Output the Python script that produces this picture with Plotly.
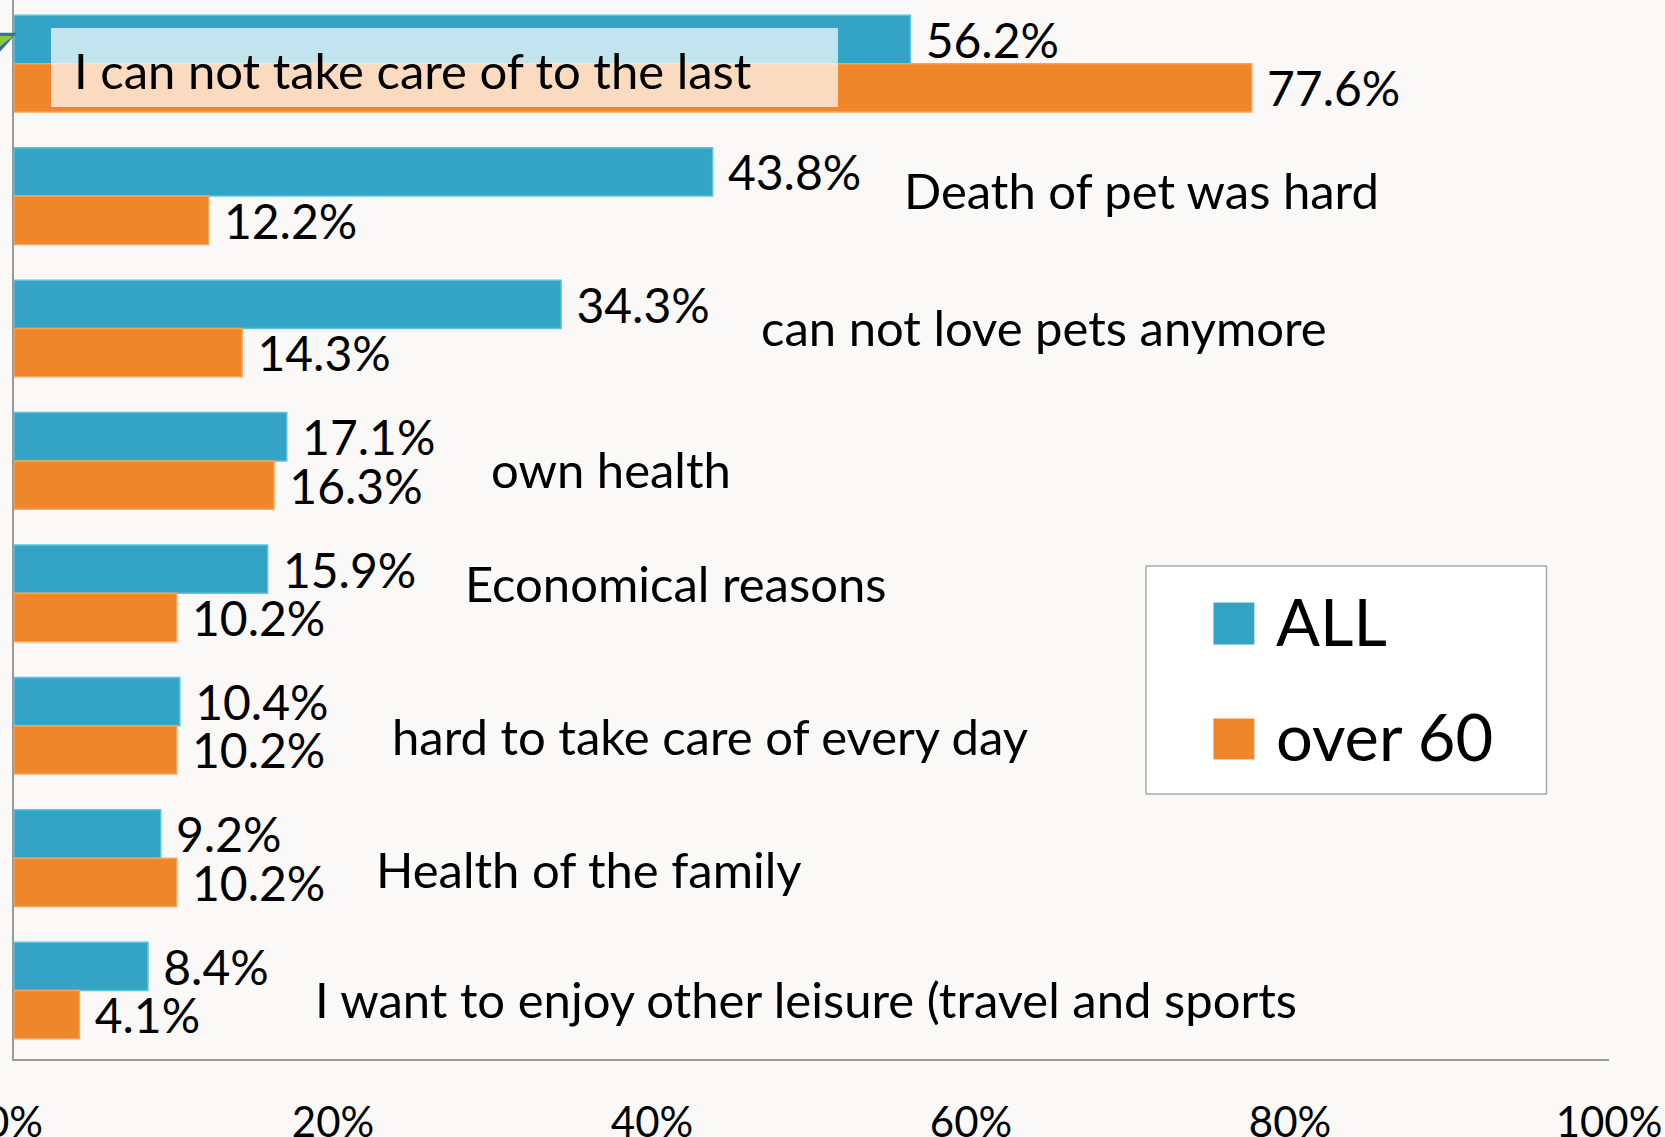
import plotly.graph_objects as go

categories = [
    "I can not take care of to the last",
    "Death of pet was hard",
    "can not love pets anymore",
    "own health",
    "Economical reasons",
    "hard to take care of every day",
    "Health of the family",
    "I want to enjoy other leisure (travel and sports",
]
all_values = [56.2, 43.8, 34.3, 17.1, 15.9, 10.4, 9.2, 8.4]
over60_values = [77.6, 12.2, 14.3, 16.3, 10.2, 10.2, 10.2, 4.1]
series_names = ["ALL", "over 60"]
tick_values = [0, 20, 40, 60, 80, 100]
tick_labels = ["0%", "20%", "40%", "60%", "80%", "100%"]

# category label placement (x in % units, vertical shift in px)
label_x = [3.65, 55.7, 46.7, 29.8, 28.15, 23.55, 22.56, 18.76]
label_shift = [-6, 6, 2, -8, 10, -10, -11, -8]

BLUE = "#33a4c5"
ORANGE = "#f0862a"
BG = "#faf9f7"
FONT = "Lato"
NB = "\u00a0"

fig = go.Figure()
for name, vals, col, edge in [
    (series_names[0], all_values, BLUE, "#5cc3e0"),
    (series_names[1], over60_values, ORANGE, "#f9a25a"),
]:
    fig.add_trace(go.Bar(
        name=name, y=categories, x=vals, orientation="h",
        marker=dict(color=col, line=dict(color=edge, width=1.5)),
        text=[NB + f"{v:.1f}%" for v in vals],
        textposition="outside", constraintext="none", cliponaxis=False,
        textfont=dict(family=FONT, size=48, color="#000000"),
        showlegend=False,
    ))

annotations = []
for i, (cat, lx, ls) in enumerate(zip(categories, label_x, label_shift)):
    annotations.append(dict(
        x=lx, y=cat, xref="x", yref="y", yshift=ls, text=cat,
        showarrow=False, xanchor="left", yanchor="middle",
        font=dict(family=FONT, size=49, color="#000000"),
    ))

shapes = [
    # highlight box behind first category label
    dict(type="rect", xref="x", yref="paper", x0=2.32, x1=51.66, y0=0.899, y1=0.9736,
         fillcolor="rgba(255,255,255,0.7)", line=dict(width=0), layer="above"),
    # small decorative triangle at top-left
    dict(type="path", xref="paper", yref="paper",
         path="M -0.0088 0.969 L 0.0019 0.969 L -0.0088 0.951 Z",
         fillcolor="#3b6fa0", line=dict(width=0), layer="above"),
    dict(type="path", xref="paper", yref="paper",
         path="M -0.0088 0.966 L -0.0005 0.966 L -0.0088 0.956 Z",
         fillcolor="#8cc63f", line=dict(width=0), layer="above"),
]

# custom legend (box, swatches, labels) in paper coordinates
legend_box = dict(x0=0.7097, x1=0.9608, y0=0.2502, y1=0.4655)
shapes.append(dict(type="rect", xref="paper", yref="paper", **legend_box,
                   fillcolor="#ffffff", line=dict(color="#aaaaaa", width=1.5), layer="above"))
legend_rows = [(0.4315, 0.3909, 0.4135), (0.3220, 0.2824, 0.3050)]
for (y1, y0, yt), name, col in zip(legend_rows, series_names, [BLUE, ORANGE]):
    shapes.append(dict(type="rect", xref="paper", yref="paper",
                       x0=0.7517, x1=0.7780, y0=y0, y1=y1,
                       fillcolor=col, line=dict(width=1, color="#ffffff"), layer="above"))
    annotations.append(dict(x=0.7900, y=yt, xref="paper", yref="paper", text=name,
                            showarrow=False, xanchor="left", yanchor="middle",
                            font=dict(family=FONT, size=65, color="#000000")))

fig.update_layout(
    width=1665, height=1137,
    margin=dict(l=14, r=56, t=0, b=78, autoexpand=False),
    paper_bgcolor=BG, plot_bgcolor=BG,
    barmode="group", bargap=0.27, bargroupgap=0,
    annotations=annotations, shapes=shapes,
    showlegend=False,
)
fig.update_xaxes(
    range=[0, 100], tickvals=tick_values, ticktext=tick_labels,
    showgrid=False, zeroline=False, showline=True, linecolor="#9a9a9a", linewidth=2,
    ticks="", ticklabelstandoff=26, automargin=False, ticklabeloverflow="allow",
    tickfont=dict(family=FONT, size=42, color="#000000"),
)
fig.update_yaxes(
    range=[7.517, -0.481], showticklabels=False, showgrid=False, zeroline=False,
    showline=True, linecolor="#9a9a9a", linewidth=2, ticks="", automargin=False,
)

fig.write_html("out.html", config={"displayModeBar": False},
               post_script="document.body.style.margin='0';")
